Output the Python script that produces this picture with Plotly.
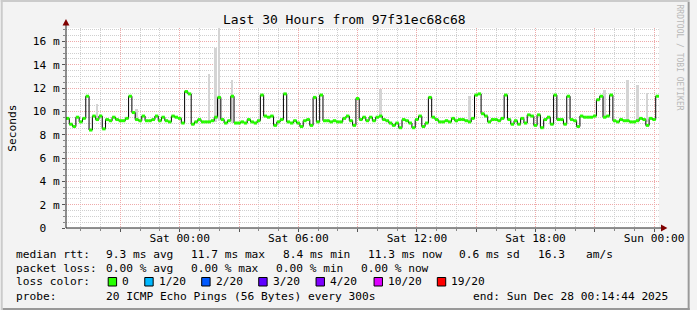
import pandas as pd
import plotly.graph_objects as go

# ---------------- data ----------------
END = pd.Timestamp("2025-12-28 00:14:44")
START = END - pd.Timedelta(hours=30)
STEP = pd.Timedelta(minutes=10)

median_ms = [
    9.4, 8.9, 8.7, 9.5, 9.1, 9.4, 11.3, 8.4, 9.6, 9.3,
    9.6, 8.5, 9.3, 9.2, 9.5, 9.3, 9.2, 9.2, 9.4, 11.3,
    9.9, 9.3, 9.2, 9.6, 9.2, 9.2, 9.3, 9.6, 9.2, 9.5,
    9.2, 9.1, 9.6, 9.5, 9.4, 9.0, 11.7, 11.5, 8.9, 9.1,
    9.3, 9.1, 9.1, 9.1, 9.2, 9.5, 11.2, 9.3, 9.0, 9.2,
    11.3, 9.0, 9.0, 9.1, 9.0, 9.3, 9.1, 9.0, 9.2, 11.4,
    9.6, 9.5, 9.6, 8.8, 9.1, 9.3, 11.5, 9.1, 9.0, 9.2,
    9.0, 8.7, 9.2, 9.3, 8.8, 11.2, 9.1, 11.4, 9.2, 9.2,
    9.1, 9.2, 9.1, 9.1, 9.4, 9.6, 9.2, 8.8, 11.1, 9.3,
    9.5, 9.2, 9.5, 9.2, 9.5, 9.6, 9.3, 9.2, 9.0, 8.8,
    9.0, 8.6, 9.3, 9.2, 9.0, 8.6, 9.3, 9.6, 8.7, 9.0,
    11.2, 9.5, 9.3, 9.1, 9.1, 9.2, 9.1, 9.4, 9.2, 9.3,
    9.3, 9.2, 9.1, 9.4, 11.4, 11.5, 9.8, 9.6, 9.1, 9.3,
    9.3, 9.2, 9.4, 11.4, 9.3, 8.9, 9.2, 8.9, 9.4, 9.0,
    9.7, 9.6, 8.8, 9.7, 8.6, 9.3, 9.5, 8.9, 11.4, 9.3,
    9.3, 8.9, 11.3, 9.3, 9.2, 8.7, 9.6, 9.5, 9.5, 9.5,
    9.6, 11.0, 11.3, 9.5, 9.6, 11.4, 9.2, 9.1, 9.3, 9.2,
    9.2, 9.1, 9.1, 9.2, 9.4, 9.3, 8.8, 9.4, 9.3, 11.3,
]

smoke_idx = [9, 21, 43, 45, 46, 50, 95, 122, 163, 170, 173, 176]
smoke_top = [10.6, 10.2, 13.2, 15.4, 17.2, 12.7, 11.9, 11.3, 11.8, 12.7, 12.3, 11.6]
smoke_bot = [9.2, 9.2, 9.1, 9.1, 9.2, 9.0, 9.4, 9.0, 9.4, 9.1, 9.1, 9.1]

x_tick_times = ["2025-12-26 21:00", "2025-12-27 00:00", "2025-12-27 03:00",
                "2025-12-27 06:00", "2025-12-27 09:00", "2025-12-27 12:00",
                "2025-12-27 15:00", "2025-12-27 18:00", "2025-12-27 21:00",
                "2025-12-28 00:00"]
x_tick_labels = ["", "Sat 00:00", "", "Sat 06:00", "", "Sat 12:00", "",
                 "Sat 18:00", "", "Sun 00:00"]
y_tick_vals = [0, 2, 4, 6, 8, 10, 12, 14, 16]
y_tick_labels = ["0\u00a0\u00a0", "2 m", "4 m", "6 m", "8 m", "10 m", "12 m", "14 m", "16 m"]

title_text = "Last 30 Hours from 97f31ec68c68"
legend_rows = [
    (254.3, [("median rtt:", 15), ("9.3 ms avg", 106), ("11.7 ms max", 192),
             ("8.4 ms min", 285.7), ("11.3 ms now", 371.7), ("0.6 ms sd", 464),
             ("16.3", 543.3), ("am/s", 592.3)]),
    (268.3, [("packet loss:", 15), ("0.00 % avg", 106.3), ("0.00 % max", 192.3),
             ("0.00 % min", 278.3), ("0.00 % now", 364)]),
    (281.7, [("loss color:", 15)]),
    (296.3, [("probe:", 15), ("20 ICMP Echo Pings (56 Bytes) every 300s", 106),
             ("end: Sun Dec 28 00:14:44 2025", 477.3)]),
]
loss_labels = ["0", "1/20", "2/20", "3/20", "4/20", "10/20", "19/20"]
loss_colors = ["#26ff00", "#00b8ff", "#0059ff", "#5e00ff", "#7e00ff", "#dd00ff", "#ff0000"]
loss_box_x = [108.7, 145.7, 203.3, 261, 319, 377.7, 441.7]
loss_text_x = [122.3, 159.7, 217.3, 275, 333, 391.7, 455.7]

FS = 11.2

# ---------------- geometry helpers (pixel -> paper) ----------------
PL, PR, PT, PB = 66, 666, 28, 228
W, H = 697, 310


def px(x):
    return (x - PL) / (PR - PL)


def py(y):
    return (PB - y) / (PB - PT)


times = [START + STEP * k for k in range(len(median_ms))]

fig = go.Figure()

# smoke
fig.add_trace(go.Bar(
    x=[times[i] + STEP / 2 for i in smoke_idx],
    y=[t - b for t, b in zip(smoke_top, smoke_bot)],
    base=smoke_bot,
    width=6 * 60 * 1000,
    marker=dict(color="#d4d4d4", line=dict(width=0)),
    hoverinfo="skip",
))

# black step connector
fig.add_trace(go.Scatter(
    x=times + [times[-1] + STEP], y=median_ms + [median_ms[-1]],
    mode="lines", line=dict(color="#000000", width=1, shape="hv"),
    hoverinfo="skip",
))

# green median segments
gx, gy = [], []
for t, v in zip(times, median_ms):
    gx += [t, t + STEP, None]
    gy += [v, v, None]
fig.add_trace(go.Scatter(
    x=gx, y=gy, mode="lines", line=dict(color="#26ff00", width=3),
    hoverinfo="skip",
))

MAJOR = "#eeaaaa"
MINOR = "#cfcfcf"

fig.update_layout(
    width=W, height=H,
    margin=dict(l=PL, r=W - PR, t=PT, b=H - PB),
    paper_bgcolor="#f3f3f3", plot_bgcolor="#ffffff",
    showlegend=False, bargap=0,
    font=dict(family="DejaVu Sans Mono", size=FS, color="#000000"),
    xaxis=dict(
        type="date", range=[START, END],
        tickvals=x_tick_times, ticktext=x_tick_labels,
        showgrid=True, gridcolor=MAJOR, griddash="1px,1px", gridwidth=1,
        ticks="outside", ticklen=3, tickcolor="#555555",
        ticklabelstandoff=-3,
        showline=False, zeroline=False, tickangle=0,
        tickfont=dict(size=FS),
        minor=dict(dtick=3600000, tick0="2025-12-26 19:00", showgrid=True,
                   gridcolor=MINOR, griddash="1px,1px", ticks="outside",
                   ticklen=2, tickcolor="#888888"),
    ),
    yaxis=dict(
        range=[0, 17.15],
        tickvals=y_tick_vals, ticktext=y_tick_labels,
        showgrid=True, gridcolor=MAJOR, griddash="1px,1px", gridwidth=1,
        ticks="outside", ticklen=3, tickcolor="#555555",
        showline=False, zeroline=False,
        tickfont=dict(size=FS),
        minor=dict(dtick=0.5, tick0=0, showgrid=True, gridcolor=MINOR,
                   griddash="1px,1px", ticks="outside", ticklen=2,
                   tickcolor="#888888"),
    ),
)

shapes = []
AX = "#222222"
ARROW = "#800000"
# x axis line and arrow
shapes.append(dict(type="line", xref="paper", yref="paper",
                   x0=px(PL), x1=px(669), y0=py(228), y1=py(228),
                   line=dict(color=AX, width=1), layer="above"))
shapes.append(dict(type="path", xref="paper", yref="paper",
                   path=f"M {px(668)} {py(224.5)} L {px(674.5)} {py(228)} L {px(668)} {py(231.5)} Z",
                   fillcolor=ARROW, line=dict(color=ARROW, width=0), layer="above"))
# y axis line and arrow
shapes.append(dict(type="line", xref="paper", yref="paper",
                   x0=px(66), x1=px(66), y0=py(228), y1=py(24),
                   line=dict(color=AX, width=1), layer="above"))
shapes.append(dict(type="path", xref="paper", yref="paper",
                   path=f"M {px(62.5)} {py(25.5)} L {px(66)} {py(19)} L {px(69.5)} {py(25.5)} Z",
                   fillcolor=ARROW, line=dict(color=ARROW, width=0), layer="above"))
# frame (3D shading)
shapes.append(dict(type="rect", xref="paper", yref="paper",
                   x0=px(0), x1=px(2), y0=py(310), y1=py(0),
                   fillcolor="#cbcbcb", line=dict(width=0), layer="above"))
shapes.append(dict(type="rect", xref="paper", yref="paper",
                   x0=px(0), x1=px(697), y0=py(2), y1=py(0),
                   fillcolor="#cbcbcb", line=dict(width=0), layer="above"))
shapes.append(dict(type="rect", xref="paper", yref="paper",
                   x0=px(695), x1=px(697), y0=py(310), y1=py(2),
                   fillcolor="#999999", line=dict(width=0), layer="above"))
shapes.append(dict(type="rect", xref="paper", yref="paper",
                   x0=px(2), x1=px(697), y0=py(310), y1=py(308),
                   fillcolor="#999999", line=dict(width=0), layer="above"))
# loss colour boxes
for bx, col in zip(loss_box_x, loss_colors):
    shapes.append(dict(type="rect", xref="paper", yref="paper",
                       x0=px(bx), x1=px(bx + 8.5), y0=py(286), y1=py(277.5),
                       fillcolor=col, line=dict(color="#000000", width=1), layer="above"))

annotations = []


def txt(x, y, s, size=FS, color="#000000", anchor="left", angle=0):
    annotations.append(dict(
        xref="paper", yref="paper", x=px(x), y=py(y), text=s, showarrow=False,
        xanchor=anchor, yanchor="middle", textangle=angle,
        borderpad=0, borderwidth=0,
        font=dict(family="DejaVu Sans Mono", size=size, color=color)))


txt(348, 19.3, title_text, size=13.0, anchor="center")
txt(11, 128, "Seconds", anchor="center", angle=-90)
txt(687.7, 58, "RRDTOOL / TOBI OETIKER", size=8, color="#b8b8b8", anchor="center", angle=90)
for yy, parts in legend_rows:
    for s, xx in parts:
        txt(xx, yy, s)
for s, xx in zip(loss_labels, loss_text_x):
    txt(xx, 281.7, s)

fig.update_layout(shapes=shapes, annotations=annotations)
fig.write_html("out.html")
